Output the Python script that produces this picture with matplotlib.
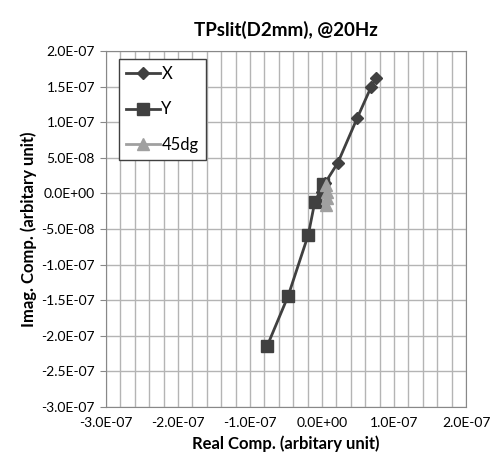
import matplotlib.pyplot as plt
from matplotlib.ticker import MultipleLocator, FuncFormatter

plt.rcParams['font.family'] = ['Lato', 'DejaVu Sans']

# data
x_re = [0.75e-7, 0.68e-7, 0.49e-7, 0.22e-7, 0.04e-7, 0.0]
x_im = [1.62e-7, 1.49e-7, 1.06e-7, 0.43e-7, 0.14e-7, 0.02e-7]

y_re = [0.02e-7, -0.10e-7, -0.19e-7, -0.47e-7, -0.76e-7]
y_im = [0.13e-7, -0.12e-7, -0.58e-7, -1.44e-7, -2.14e-7]

d45_re = [0.05e-7, 0.07e-7, 0.07e-7, 0.06e-7]
d45_im = [0.12e-7, 0.02e-7, -0.07e-7, -0.16e-7]


def sci(v, pos):
    s = '%.1E' % v
    if s.startswith('-0.0'):
        s = s[1:]
    return s


fig = plt.figure(figsize=(4.96, 4.66), dpi=100)
ax = fig.add_axes([0.2137, 0.1266, 0.7258, 0.764])

dark = '#404040'
light = '#a0a0a0'
ax.plot(x_re, x_im, color=dark, lw=2, marker='D', ms=6, label='X', zorder=3)
ax.plot(y_re, y_im, color=dark, lw=2, marker='s', ms=8.5, label='Y', zorder=3)
ax.plot(d45_re, d45_im, color=light, lw=2, marker='^', ms=9, label='45dg', zorder=4)

ax.set_xlim(-3e-7, 2e-7)
ax.set_ylim(-3e-7, 2e-7)
ax.xaxis.set_major_locator(MultipleLocator(1e-7))
ax.xaxis.set_minor_locator(MultipleLocator(2e-8))
ax.yaxis.set_major_locator(MultipleLocator(5e-8))
ax.xaxis.set_major_formatter(FuncFormatter(sci))
ax.yaxis.set_major_formatter(FuncFormatter(sci))
ax.grid(True, which='both', color='#b4b4b4', lw=1)
ax.set_axisbelow(True)
ax.tick_params(which='both', length=0, labelsize=10, colors='black', pad=7)
ax.tick_params(axis='y', length=4, color='#888888', pad=4)
for s in ax.spines.values():
    s.set_color('#888888')

ax.set_title('TPslit(D2mm), @20Hz', fontsize=13.5, fontweight='bold', pad=11)
ax.set_xlabel('Real Comp. (arbitary unit)', fontsize=12, fontweight='bold', labelpad=5)
ax.set_ylabel('Imag. Comp. (arbitary unit)', fontsize=12, fontweight='bold', labelpad=3)

leg = ax.legend(loc='upper left', bbox_to_anchor=(0.036, 0.978), fancybox=False,
                framealpha=1, edgecolor=dark, fontsize=12, handlelength=2.0,
                labelspacing=1.15, borderpad=0.45, handletextpad=0.1,
                borderaxespad=0)
leg.get_frame().set_linewidth(1)

fig.savefig('out.png', dpi=100)
